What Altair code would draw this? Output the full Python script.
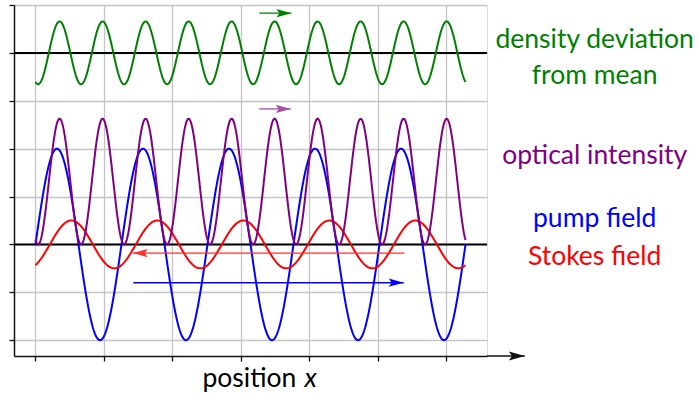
import numpy as np
import pandas as pd
import altair as alt

# Wave parameters (fields share one wavenumber)
WAVENUMBER = 5
PUMP_AMP = 2.0
STOKES_AMP = 0.5
STOKES_PHASE = -np.pi / 3
DENSITY_OFFSET = 4.0
DENSITY_SCALE = 0.5

X_DOMAIN = [-0.314, 6.597]
Y_DOMAIN = [-2.33, 5.0]
GRID_X = [0, 1, 2, 3, 4, 5, 6]
GRID_Y = [-2, -1, 0, 1, 2, 3, 4, 5]
BASELINES = [0.0, 4.0]

x = np.linspace(0, 2 * np.pi, 600)
pump = PUMP_AMP * np.sin(WAVENUMBER * x)
stokes = STOKES_AMP * np.sin(WAVENUMBER * x + STOKES_PHASE)
intensity = (pump + stokes) ** 2 / 2
density = DENSITY_OFFSET + DENSITY_SCALE * (intensity - intensity.mean())

series = {
    "pump": (pump, "#0000ff"),
    "stokes": (stokes, "#ff0000"),
    "intensity": (intensity, "#800080"),
    "density": (density, "#008000"),
}
curves = pd.concat(
    [pd.DataFrame({"x": x, "y": v, "name": k, "order": i, "color": c})
     for i, (k, (v, c)) in enumerate(series.items())],
    ignore_index=True,
)

# Direction-of-travel arrows
arrow_names = ["density", "intensity", "stokes", "pump"]
arrow_x0 = [3.27, 3.27, 5.39, 1.43]
arrow_x1 = [3.74, 3.73, 1.42, 5.38]
arrow_y = [4.83, 2.83, -0.18, -0.80]
arrow_colors = ["#008000", "#a64ca6", "#ff3030", "#0000ff"]
arrows = pd.DataFrame({"name": arrow_names, "x0": arrow_x0, "x1": arrow_x1,
                       "y": arrow_y, "color": arrow_colors})
arrows["angle"] = np.where(arrows.x1 > arrows.x0, 0, 180)

# Right-hand labels
label_text = ["density deviation", "from mean", "optical intensity",
              "pump field", "Stokes field"]
label_y = [4.098, 3.348, 1.681, 0.360, -0.437]
label_colors = ["#008000", "#008000", "#800080", "#0000ff", "#ff0000"]
labels = pd.DataFrame({"text": label_text, "x": 8.17, "y": label_y,
                       "color": label_colors})

STEALTH = "M0,0L-2,-0.55L-1.6,0L-2,0.55Z"
FONT = "Lato"
FONT_SIZE = 26.5

xaxis = alt.Axis(values=GRID_X, labels=False, title=None, grid=True,
                 gridColor="#c4c4c4", gridWidth=1.3, ticks=True, tickSize=5,
                 tickColor="#111", tickWidth=1.3, domainColor="#111",
                 domainWidth=1.5)
yaxis = alt.Axis(values=GRID_Y, labels=False, title=None, grid=True,
                 gridColor="#c4c4c4", gridWidth=1.3, ticks=True, tickSize=5,
                 tickColor="#111", tickWidth=1.3, domainColor="#111",
                 domainWidth=1.5)


def X(field):
    return alt.X(field, type="quantitative", scale=alt.Scale(domain=X_DOMAIN, nice=False, zero=False), axis=xaxis)


def Y(field):
    return alt.Y(field, type="quantitative", scale=alt.Scale(domain=Y_DOMAIN, nice=False, zero=False), axis=yaxis)


base_lines = alt.Chart(pd.DataFrame({"y": BASELINES})).mark_rule(
    color="black", strokeWidth=2
).encode(y=Y("y"))

lines = alt.Chart(curves).mark_line(strokeWidth=2).encode(
    x=X("x"), y=Y("y"),
    color=alt.Color("color:N", scale=None),
    detail="name:N", order="order:Q",
)

arrow_shafts = alt.Chart(arrows).mark_rule(strokeWidth=1.3).encode(
    x=X("x0"), x2="x1", y=Y("y"), color=alt.Color("color:N", scale=None)
)
arrow_heads = alt.Chart(arrows).mark_point(
    shape=STEALTH, filled=True, size=225, opacity=1, strokeWidth=0
).encode(
    x=X("x1"), y=Y("y"), color=alt.Color("color:N", scale=None),
    angle=alt.Angle("angle:Q", scale=None),
)

# x-axis continues past the frame and ends in an arrow
axis_ext = pd.DataFrame({"x0": [X_DOMAIN[1]], "x1": [7.15], "y": [Y_DOMAIN[0]]})
axis_line = alt.Chart(axis_ext).mark_rule(color="#111", strokeWidth=1.5).encode(
    x=X("x0"), x2="x1", y=Y("y")
)
axis_head = alt.Chart(axis_ext).mark_point(
    shape=STEALTH, filled=True, size=256, color="#111", opacity=1, strokeWidth=0
).encode(x=X("x1"), y=Y("y"))

label_marks = alt.Chart(labels).mark_text(
    font=FONT, fontSize=FONT_SIZE, align="center", baseline="alphabetic"
).encode(x=X("x"), y=Y("y"), text="text:N",
         color=alt.Color("color:N", scale=None))

title_df = pd.DataFrame({"text": ["position", "x"], "x": [2.44, 3.93],
                         "y": [-2.973, -2.973],
                         "style": ["normal", "italic"]})
title_plain = alt.Chart(title_df.iloc[[0]]).mark_text(
    font=FONT, fontSize=FONT_SIZE, align="left", baseline="alphabetic", color="black"
).encode(x=X("x"), y=Y("y"), text="text:N")
title_ital = alt.Chart(title_df.iloc[[1]]).mark_text(
    font=FONT, fontSize=FONT_SIZE, fontStyle="italic", align="left",
    baseline="alphabetic", color="black"
).encode(x=X("x"), y=Y("y"), text="text:N")

chart = alt.layer(
    base_lines, lines, arrow_shafts, arrow_heads, axis_line, axis_head,
    label_marks, title_plain, title_ital,
).properties(
    width=473, height=351,
    autosize=alt.AutoSizeParams(type="none"),
    padding={"left": 14, "top": 5, "right": 212, "bottom": 38},
).configure_view(stroke="#111", strokeWidth=1.5).configure(background="white")

chart.save("out.html", embed_options={"renderer": "svg", "actions": False})
